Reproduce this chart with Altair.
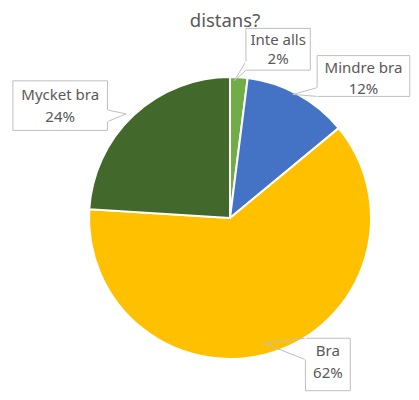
import altair as alt
import pandas as pd

# ---- data ----
categories = ["Inte alls", "Mindre bra", "Bra", "Mycket bra"]
percent = [2, 12, 62, 24]
colors = ["#70AD47", "#4472C4", "#FFC000", "#43682B"]
title_text = "distans?"

# ---- layout (chart pixel space) ----
W, H = 403, 384
CX, CY, R = 222, 210, 141
box_layout = {
    "Inte alls":  dict(x0=244, x1=310, y0=21, y1=64, t1=33, t2=53,
                        base=[(244, 55), (244, 64)], tip=(232, 75)),
    "Mindre bra": dict(x0=317, x1=412, y0=49, y1=91, t1=62, t2=83,
                        base=[(317, 82), (317, 91)], tip=(292, 89)),
    "Mycket bra": dict(x0=5, x1=102, y0=75, y1=126, t1=90, t2=112,
                        base=[(102, 105), (102, 117)], tip=(121, 109)),
    "Bra":        dict(x0=305, x1=351, y0=340, y1=394, t1=353, t2=376,
                        base=[(305, 340), (305, 362)], tip=(262, 345)),
}

pie_df = pd.DataFrame({"cat": categories, "pct": percent,
                       "order": list(range(len(categories)))})

xs = alt.Scale(domain=[0, W])
ys = alt.Scale(domain=[0, H], reverse=True)
noax = None

pie = alt.Chart(pie_df).mark_arc(stroke="white", strokeWidth=2, outerRadius=R).encode(
    theta=alt.Theta("pct:Q", stack=True),
    order=alt.Order("order:Q"),
    color=alt.Color("cat:N", scale=alt.Scale(domain=categories, range=colors), legend=None),
    x=alt.value(CX), y=alt.value(CY),
)

rows_box, rows_txt, rows_ptr, rows_gap = [], [], [], []
for c, p in zip(categories, percent):
    b = box_layout[c]
    rows_box.append(dict(cat=c, x0=b["x0"], x1=b["x1"], y0=b["y0"], y1=b["y1"]))
    xm = (b["x0"] + b["x1"]) / 2
    rows_txt.append(dict(cat=c, x=xm, y=b["t1"], t=c))
    rows_txt.append(dict(cat=c, x=xm, y=b["t2"], t=f"{p}%"))
    (ax_, ay_), (bx_, by_) = b["base"]
    tx, ty = b["tip"]
    for i, (px, py) in enumerate([(ax_, ay_), (tx, ty), (bx_, by_)]):
        rows_ptr.append(dict(cat=c, i=i, x=px, y=py))
    rows_gap.append(dict(cat=c, x=ax_, y=ay_, x2=bx_, y2=by_))

box_df = pd.DataFrame(rows_box)
txt_df = pd.DataFrame(rows_txt)
ptr_df = pd.DataFrame(rows_ptr)
gap_df = pd.DataFrame(rows_gap)

boxes = alt.Chart(box_df).mark_rect(fill="white", stroke="#BFBFBF", strokeWidth=1).encode(
    x=alt.X("x0:Q", scale=xs, axis=noax), x2="x1:Q",
    y=alt.Y("y0:Q", scale=ys, axis=noax), y2="y1:Q",
)
gaps = alt.Chart(gap_df).mark_rule(stroke="white", strokeWidth=2).encode(
    x=alt.X("x:Q", scale=xs, axis=noax), x2="x2:Q",
    y=alt.Y("y:Q", scale=ys, axis=noax), y2="y2:Q",
)
ptrs = alt.Chart(ptr_df).mark_line(stroke="#BFBFBF", strokeWidth=1).encode(
    x=alt.X("x:Q", scale=xs, axis=noax),
    y=alt.Y("y:Q", scale=ys, axis=noax),
    detail="cat:N", order="i:Q",
)
texts = alt.Chart(txt_df).mark_text(font="Noto Sans", fontSize=15, color="#595959",
                                    baseline="middle", align="center").encode(
    x=alt.X("x:Q", scale=xs, axis=noax),
    y=alt.Y("y:Q", scale=ys, axis=noax),
    text="t:N",
)
title = alt.Chart(pd.DataFrame({"t": [title_text]})).mark_text(
    font="Noto Sans", fontSize=18.5, color="#595959", baseline="alphabetic", align="center"
).encode(x=alt.value(217), y=alt.value(19), text="t:N")

chart = alt.layer(pie, ptrs, boxes, gaps, texts, title).properties(
    width=W, height=H, padding=0,
    autosize=alt.AutoSizeParams(type="fit", contains="padding"),
).configure_view(stroke=None)

chart.save("out.html", embed_options={"renderer": "svg", "actions": False})
